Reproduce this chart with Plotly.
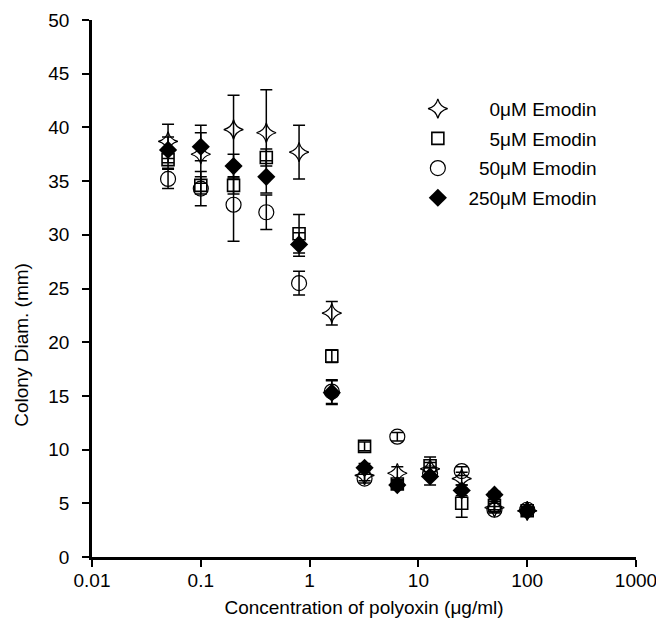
import plotly.graph_objects as go

# ---- data ----
conc = [0.05, 0.1, 0.2, 0.4, 0.8, 1.6, 3.2, 6.4, 12.8, 25, 50, 100]

series_names = ["\u2007\u2007\u20070\u03bcM Emodin", "\u2007\u2007\u20075\u03bcM Emodin",
                "\u2007\u200750\u03bcM Emodin", "\u2007250\u03bcM Emodin"]

e0 = [38.7, 37.5, 39.8, 39.5, 37.7, 22.7, 7.6, 7.8, 8.2, 7.3, 4.6, 4.3]
e0_err = [1.6, 2.7, 3.2, 4.0, 2.5, 1.1, 0.5, 0.6, 0.6, 0.6, 0.4, 0.3]

e5 = [37.0, 34.6, 34.6, 37.2, 30.1, 18.7, 10.3, 6.8, 8.5, 5.0, 4.8, 4.3]
e5_err = [0.8, 0.8, 0.8, 0.8, 1.8, 0.6, 0.4, 0.4, 0.8, 1.3, 0.4, 0.3]

e50 = [35.2, 34.3, 32.8, 32.1, 25.5, 15.4, 7.3, 11.2, 7.8, 8.0, 4.4, 4.4]
e50_err = [0.9, 1.6, 3.4, 1.6, 1.1, 1.1, 0.4, 0.4, 0.5, 0.4, 0.3, 0.3]

e250 = [37.9, 38.2, 36.4, 35.4, 29.1, 15.3, 8.3, 6.7, 7.5, 6.2, 5.8, 4.3]
e250_err = [1.2, 1.3, 1.1, 1.5, 1.1, 1.1, 0.4, 0.4, 0.8, 0.5, 0.3, 0.3]

x_ticks = [0.01, 0.1, 1, 10, 100, 1000]
x_ticklabels = ["0.01", "0.1", "1", "10", "100", "1000"]
y_ticks = [0, 5, 10, 15, 20, 25, 30, 35, 40, 45, 50]

x_title = "Concentration of polyoxin (\u03bcg/ml)"
y_title = "Colony Diam. (mm)"

# ---- styles ----
styles = [
    dict(symbol="star-diamond-open", size=14, color="black", line=dict(width=1.2, color="black")),
    dict(symbol="square-open", size=12, color="black", line=dict(width=1.6, color="black")),
    dict(symbol="circle-open", size=15, color="black", line=dict(width=1.2, color="black")),
    dict(symbol="diamond", size=14, color="black", line=dict(width=0, color="black")),
]

fig = go.Figure()
for i, (name, ys, errs) in enumerate(zip(series_names,
                                          [e0, e5, e50, e250],
                                          [e0_err, e5_err, e50_err, e250_err])):
    fig.add_trace(go.Scatter(
        x=conc, y=ys, mode="markers", name=name, legendgroup=f"g{i}",
        marker=styles[i],
        error_y=dict(type="data", array=errs, visible=True, color="black",
                     thickness=1.5, width=6),
    ))

fig.update_layout(
    width=656, height=619,
    margin=dict(l=84, r=28, t=12, b=70),
    paper_bgcolor="white", plot_bgcolor="white",
    font=dict(family="Liberation Sans, Arial, sans-serif", size=19, color="black"),
    showlegend=True,
    legend=dict(x=0.599, y=0.87, xanchor="left", yanchor="top",
                font=dict(size=19, color="black"), tracegroupgap=2,
                bgcolor="rgba(0,0,0,0)"),
    annotations=[dict(text=y_title, textangle=-90, xref="paper", yref="paper",
                      x=-0.129, y=0.395, xanchor="center", yanchor="middle",
                      showarrow=False, font=dict(size=19, color="black"))],
)
fig.update_xaxes(
    type="log", range=[-2, 3], tickvals=x_ticks, ticktext=x_ticklabels,
    automargin=False,
    showgrid=False, zeroline=False, showline=True, linecolor="black", linewidth=2.5,
    ticks="outside", ticklen=7, tickwidth=2, tickcolor="black",
    ticklabelstandoff=-3,
    title=dict(text=x_title, font=dict(size=19), standoff=12),
)
fig.update_yaxes(
    range=[0, 50], tickvals=y_ticks, automargin=False,
    showgrid=False, zeroline=False, showline=True, linecolor="black", linewidth=2.5,
    ticks="outside", ticklen=7, tickwidth=2, tickcolor="black",
    ticklabelstandoff=9,
)

fig.write_html("out.html")
